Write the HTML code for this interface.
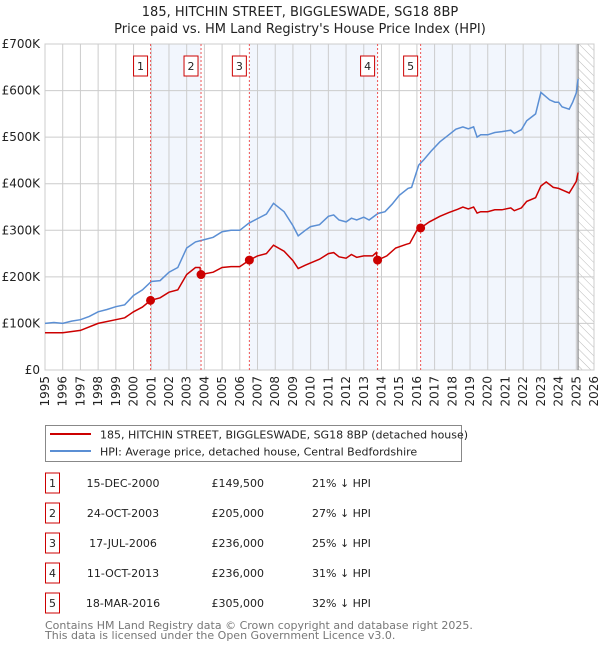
<!DOCTYPE html>
<html><head><meta charset="utf-8"><style>
body{margin:0;background:#fff;font-family:"DejaVu Sans","Liberation Sans",sans-serif;}
svg text{font-family:"DejaVu Sans","Liberation Sans",sans-serif;}
</style></head><body>
<svg id="chart" width="600" height="650" xmlns="http://www.w3.org/2000/svg">
<defs><pattern id="hatch" width="6" height="6" patternUnits="userSpaceOnUse" patternTransform="rotate(-45)"><line x1="0" y1="0" x2="0" y2="6" stroke="#bbb" stroke-width="1"/></pattern></defs>
<text x="300" y="16" text-anchor="middle" font-size="13" fill="#222">185, HITCHIN STREET, BIGGLESWADE, SG18 8BP</text>
<text x="300" y="33" text-anchor="middle" font-size="13" fill="#222">Price paid vs. HM Land Registry's House Price Index (HPI)</text>
<g id="bg"></g><g id="grid"></g><g id="axes"></g><g id="lines"></g><g id="marks"></g>
<g>
<rect x="45.5" y="425.5" width="416" height="36" fill="#fff" stroke="#888"/>
<line x1="50" y1="434" x2="91" y2="434" stroke="#cc0000" stroke-width="2"/>
<text x="100" y="438.5" font-size="11" fill="#222">185, HITCHIN STREET, BIGGLESWADE, SG18 8BP (detached house)</text>
<line x1="50" y1="451" x2="91" y2="451" stroke="#5b8fd4" stroke-width="2"/>
<text x="100" y="455.5" font-size="11" fill="#222">HPI: Average price, detached house, Central Bedfordshire</text>
</g>
<g id="table"></g>
<text x="45" y="629" font-size="11" fill="#777">Contains HM Land Registry data © Crown copyright and database right 2025.</text>
<text x="45" y="639" font-size="11" fill="#777">This data is licensed under the Open Government Licence v3.0.</text>
</svg>
<script>
const yTicks=[0,100,200,300,400,500,600,700];
const yTickLabels=["£0","£100K","£200K","£300K","£400K","£500K","£600K","£700K"];
const years=[1995,1996,1997,1998,1999,2000,2001,2002,2003,2004,2005,2006,2007,2008,2009,2010,2011,2012,2013,2014,2015,2016,2017,2018,2019,2020,2021,2022,2023,2024,2025,2026];
const hpiT=[1995,1995.5,1996,1996.5,1997,1997.5,1998,1998.5,1999,1999.5,2000,2000.5,2001,2001.5,2002,2002.5,2003,2003.5,2004,2004.5,2005,2005.5,2006,2006.5,2007,2007.5,2007.9,2008.5,2009,2009.3,2009.7,2010,2010.5,2011,2011.3,2011.6,2012,2012.3,2012.6,2013,2013.3,2013.8,2014.2,2014.6,2015,2015.5,2015.7,2016.1,2016.4,2016.8,2017.3,2017.8,2018.2,2018.6,2018.9,2019.2,2019.4,2019.6,2020,2020.4,2020.8,2021.3,2021.5,2021.9,2022.2,2022.7,2023,2023.5,2023.8,2024,2024.2,2024.6,2024.8,2025,2025.1];
const hpiV=[100,102,100,105,108,115,125,130,136,140,160,172,190,192,210,220,262,275,280,285,297,300,300,315,325,335,358,340,310,288,300,308,312,330,333,322,318,326,322,328,322,336,340,356,375,390,392,440,452,470,490,505,517,522,518,522,500,505,505,510,512,515,508,516,535,550,596,580,575,575,565,560,575,595,625];
const ppT=[1995,1996,1997,1998,1999,1999.5,2000,2000.5,2000.96,2001.5,2002,2002.5,2003,2003.5,2003.75,2003.81,2004.5,2005,2005.5,2006,2006.54,2007,2007.5,2007.9,2008.5,2009,2009.3,2009.7,2010,2010.5,2011,2011.3,2011.6,2012,2012.3,2012.6,2013,2013.5,2013.7,2013.78,2014.3,2014.8,2015.4,2015.6,2016,2016.21,2016.7,2017.3,2017.8,2018.3,2018.6,2018.9,2019.2,2019.4,2019.6,2020,2020.4,2020.8,2021.3,2021.5,2021.9,2022.2,2022.7,2023,2023.3,2023.7,2024,2024.3,2024.6,2024.8,2025,2025.1];
const ppV=[80,80,85,100,108,112,125,135,149.5,155,167,172,205,220,220,205,210,220,222,222,236,245,250,268,255,235,218,225,230,238,250,252,243,240,248,242,245,245,252,236,245,262,270,272,300,305,318,330,338,345,350,346,350,337,340,340,344,344,348,342,348,362,370,395,404,392,390,385,380,392,405,424];
const saleLabels=["1","2","3","4","5"];
const saleT=[2000.96,2003.81,2006.54,2013.78,2016.21];
const saleV=[149.5,205,236,236,305];
const saleDates=["15-DEC-2000","24-OCT-2003","17-JUL-2006","11-OCT-2013","18-MAR-2016"];
const salePrices=["£149,500","£205,000","£236,000","£236,000","£305,000"];
const salePct=["21% ↓ HPI","27% ↓ HPI","25% ↓ HPI","31% ↓ HPI","32% ↓ HPI"];
const endT=2025.1;
const X0=45,X1=594,Y0=370,Y1=44;
const x=t=>X0+(t-1995)/31*(X1-X0);
const y=v=>Y0-v/700*(Y0-Y1);
const NS="http://www.w3.org/2000/svg";
function mk(tag,attrs,parent,txt){const e=document.createElementNS(NS,tag);for(const k in attrs)e.setAttribute(k,attrs[k]);if(txt!==undefined)e.textContent=txt;document.getElementById(parent).appendChild(e);return e;}
const bounds=[saleT[0],saleT[1],saleT[2],saleT[3],saleT[4],endT];
for(let i=0;i<bounds.length;i+=2){
 const r=mk('rect',{x:x(bounds[i]),y:Y1,width:x(bounds[i+1])-x(bounds[i]),height:Y0-Y1,fill:'#eef3fc',opacity:0.75},'bg');
 
 
}
const h=mk('rect',{x:x(endT),y:Y1,width:X1-x(endT),height:Y0-Y1,fill:'url(#hatch)'},'bg');


years.forEach(yr=>{
 const l=mk('line',{x1:x(yr),x2:x(yr),y1:Y1,y2:Y0,stroke:'#ccc','stroke-width':1},'grid');
 
 
 const t=mk('text',{x:0,y:0,transform:`translate(${x(yr)+4},${Y0+6}) rotate(-90)`,'text-anchor':'end','font-size':12,fill:'#222'},'axes',String(yr));
 
 
});
yTicks.forEach((v,i)=>{
 const l=mk('line',{x1:X0,x2:X1,y1:y(v),y2:y(v),stroke:'#ccc','stroke-width':1},'grid');
 
 
 const t=mk('text',{x:X0-5,y:y(v)+4,'text-anchor':'end','font-size':12,fill:'#222'},'axes',yTickLabels[i]);
 
 
});
const fr=mk('rect',{x:X0,y:Y1,width:X1-X0,height:Y0-Y1,fill:'none',stroke:'#ccc'},'grid');


const el=mk('line',{x1:x(endT),x2:x(endT),y1:Y1,y2:Y0,stroke:'#888','stroke-width':1.2},'grid');


saleT.forEach((t,i)=>{
 const l=mk('line',{x1:x(t),x2:x(t),y1:Y1,y2:Y0,stroke:'#e55','stroke-width':1,'stroke-dasharray':'2,2'},'marks');
 
 
 const b=mk('rect',{x:x(t)-17,y:56,width:14,height:20,fill:'#fff',stroke:'#cc0000'},'marks');
 
 
 const tx=mk('text',{x:x(t)-10,y:70,'text-anchor':'middle','font-size':11,fill:'#222'},'marks',saleLabels[i]);
 
 
});
function path(T,V){return T.map((t,i)=>(i?'L':'M')+x(t).toFixed(1)+','+y(V[i]).toFixed(1)).join('');}
const hp=mk('path',{d:path(hpiT,hpiV),fill:'none',stroke:'#5b8fd4','stroke-width':1.5},'lines');


const pp=mk('path',{d:path(ppT,ppV),fill:'none',stroke:'#cc0000','stroke-width':1.5},'lines');


saleT.forEach((t,i)=>{
 const c=mk('circle',{cx:x(t),cy:y(saleV[i]),r:4.5,fill:'#cc0000'},'marks');
 
 
});
saleLabels.forEach((lab,i)=>{
 const cy=483+i*30;
 const b=mk('rect',{x:45.5,y:cy-10,width:14,height:20,fill:'#fff',stroke:'#cc0000'},'table');
 
 
 const n=mk('text',{x:52.5,y:cy+4,'text-anchor':'middle','font-size':11,fill:'#222'},'table',lab);
 
 
 const d=mk('text',{x:123,y:cy+4,'text-anchor':'middle','font-size':11,fill:'#222'},'table',saleDates[i]);
 
 
 const p=mk('text',{x:264,y:cy+4,'text-anchor':'end','font-size':11,fill:'#222'},'table',salePrices[i]);
 
 
 const q=mk('text',{x:312,y:cy+4,'font-size':11,fill:'#222'},'table',salePct[i]);
 
 
});
</script>
</body></html>
